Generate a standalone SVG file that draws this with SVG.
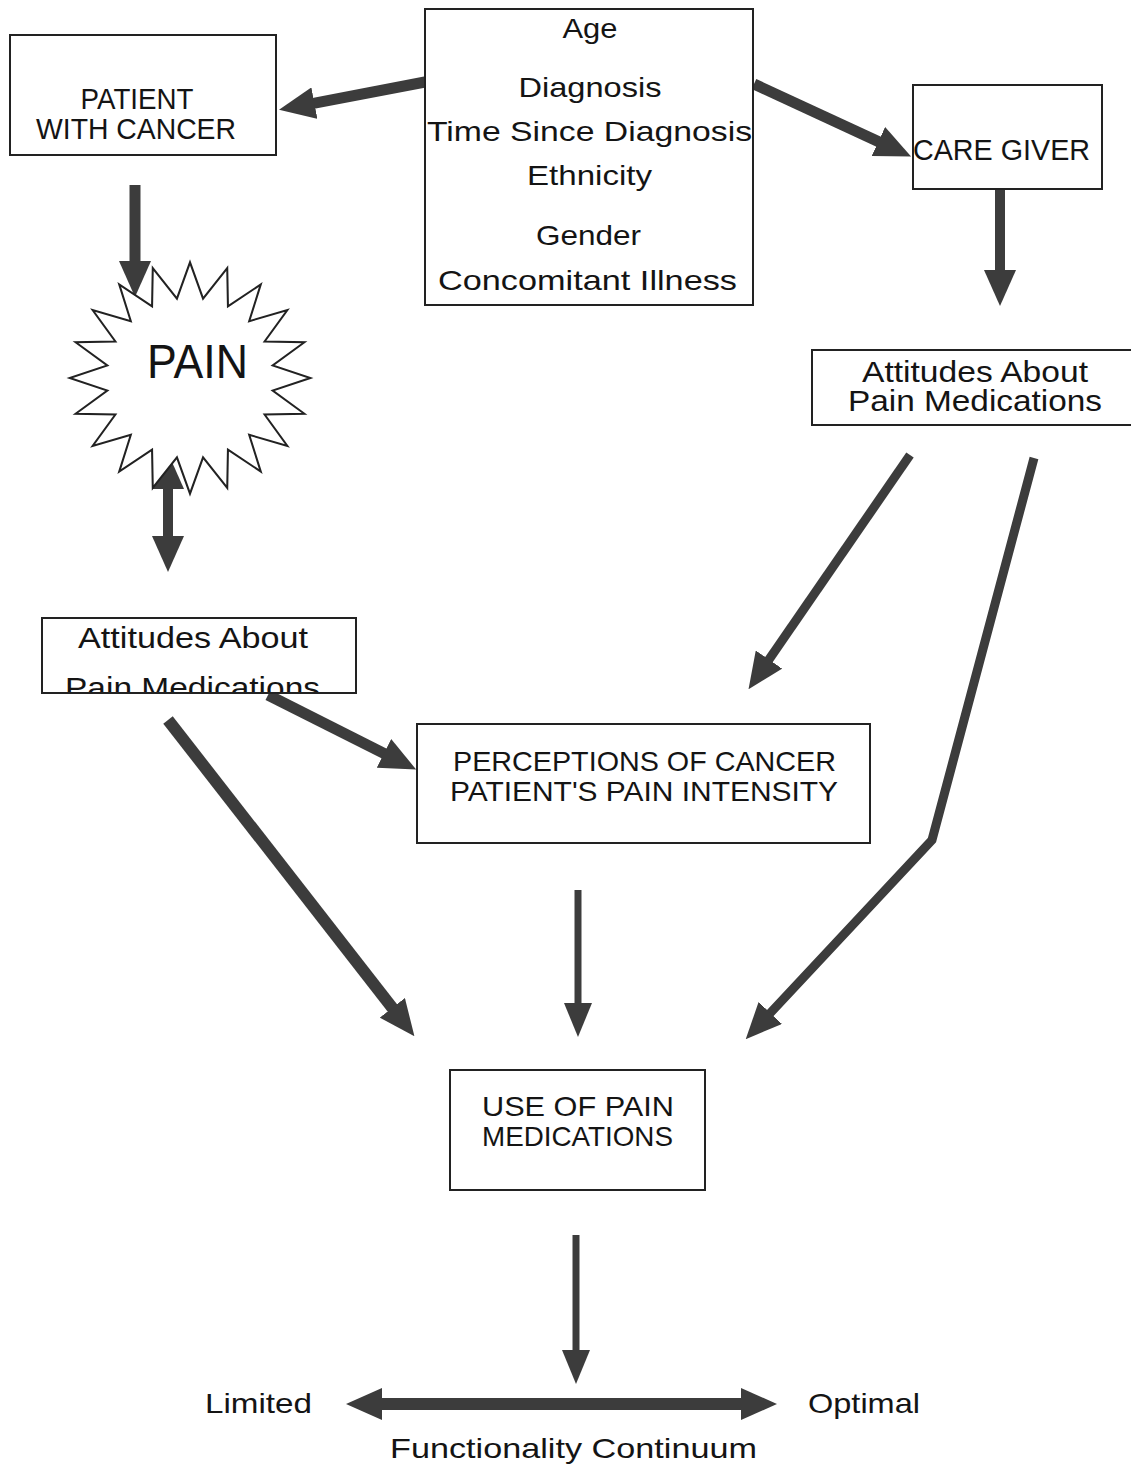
<svg xmlns="http://www.w3.org/2000/svg" width="1131" height="1468" viewBox="0 0 1131 1468">
<style>
.box{fill:#fff;stroke:#222;stroke-width:2}
.t{font-family:"Liberation Sans",Arial,sans-serif;fill:#141414;text-anchor:middle}
.a{stroke:#3c3c3c;fill:none;stroke-linejoin:miter}
</style>
<defs>
<marker id="ah" markerUnits="userSpaceOnUse" markerWidth="36" markerHeight="32" refX="1" refY="16" orient="auto-start-reverse" viewBox="0 0 36 32"><path d="M0,0 L36,16 L0,32 Z" fill="#3c3c3c"/></marker>
<marker id="ahs" markerUnits="userSpaceOnUse" markerWidth="34" markerHeight="28" refX="1" refY="14" orient="auto-start-reverse" viewBox="0 0 34 28"><path d="M0,0 L34,14 L0,28 Z" fill="#3c3c3c"/></marker>
<clipPath id="clipL"><rect x="0" y="600" width="400" height="92"/></clipPath>
</defs>
<rect width="1131" height="1468" fill="#fff"/>

<g id="connectors">
<line class="a" x1="425" y1="82" x2="313.4" y2="103.3" stroke-width="11" marker-end="url(#ah)"/>
<line class="a" x1="754" y1="84" x2="879.3" y2="141.9" stroke-width="11" marker-end="url(#ah)"/>
<line class="a" x1="135" y1="185" x2="135" y2="262" stroke-width="11" marker-end="url(#ah)"/>
<line class="a" x1="1000" y1="188" x2="1000" y2="271" stroke-width="10" marker-end="url(#ah)"/>
<line class="a" x1="168" y1="488" x2="168" y2="537" stroke-width="10" marker-start="url(#ah)" marker-end="url(#ah)"/>
<line class="a" x1="268" y1="695" x2="384.9" y2="753.8" stroke-width="11" marker-end="url(#ah)"/>
<line class="a" x1="168" y1="720" x2="392.9" y2="1008.6" stroke-width="12" marker-end="url(#ah)"/>
<line class="a" x1="910" y1="455" x2="768.4" y2="660.4" stroke-width="9" marker-end="url(#ah)"/>
<polyline class="a" points="1034,458 932,840 769.6,1013.7" stroke-width="9" marker-end="url(#ah)"/>
<line class="a" x1="578" y1="890" x2="578" y2="1004" stroke-width="7" marker-end="url(#ahs)"/>
<line class="a" x1="576" y1="1235" x2="576" y2="1351" stroke-width="7" marker-end="url(#ahs)"/>
<line class="a" x1="381" y1="1404" x2="742" y2="1404" stroke-width="12" marker-start="url(#ah)" marker-end="url(#ah)"/>
</g>

<g id="patient">
<rect class="box" x="10" y="35" width="266" height="120"/>
<text class="t" x="137" y="109" font-size="29" textLength="113" lengthAdjust="spacingAndGlyphs">PATIENT</text>
<text class="t" x="136" y="139" font-size="29" textLength="200" lengthAdjust="spacingAndGlyphs">WITH CANCER</text>
</g>

<g id="factors">
<rect class="box" x="425" y="9" width="328" height="296"/>
<text class="t" x="590" y="38" font-size="28" textLength="55" lengthAdjust="spacingAndGlyphs">Age</text>
<text class="t" x="590" y="97" font-size="28" textLength="143" lengthAdjust="spacingAndGlyphs">Diagnosis</text>
<text class="t" x="589.5" y="141" font-size="28" textLength="325" lengthAdjust="spacingAndGlyphs">Time Since Diagnosis</text>
<text class="t" x="589.5" y="185" font-size="28" textLength="125" lengthAdjust="spacingAndGlyphs">Ethnicity</text>
<text class="t" x="588.5" y="245" font-size="28" textLength="105" lengthAdjust="spacingAndGlyphs">Gender</text>
<text class="t" x="587.5" y="290" font-size="28" textLength="299" lengthAdjust="spacingAndGlyphs">Concomitant Illness</text>
</g>

<g id="caregiver">
<rect class="box" x="913" y="85" width="189" height="104"/>
<text class="t" x="1001.5" y="160" font-size="29" textLength="177" lengthAdjust="spacingAndGlyphs">CARE GIVER</text>
</g>

<g id="pain">
<polygon transform="translate(190,378) scale(1.02,0.98)" fill="#fff" stroke="#222" stroke-width="2" stroke-linejoin="miter" points="118,0 81,12.8 112.2,36.5 73.1,37.2 95.5,69.4 58,58 69.4,95.5 37.2,73.1 36.5,112.2 12.8,81 0,118 -12.8,81 -36.5,112.2 -37.2,73.1 -69.4,95.5 -58,58 -95.5,69.4 -73.1,37.2 -112.2,36.5 -81,12.8 -118,0 -81,-12.8 -112.2,-36.5 -73.1,-37.2 -95.5,-69.4 -58,-58 -69.4,-95.5 -37.2,-73.1 -36.5,-112.2 -12.8,-81 0,-118 12.8,-81 36.5,-112.2 37.2,-73.1 69.4,-95.5 58,-58 95.5,-69.4 73.1,-37.2 112.2,-36.5 81,-12.8"/>
<text class="t" x="197.5" y="378" font-size="48" textLength="101" lengthAdjust="spacingAndGlyphs">PAIN</text>
</g>

<g id="cg-attitudes">
<rect class="box" x="812" y="350" width="325" height="75"/>
<text class="t" x="975" y="382" font-size="29" textLength="226" lengthAdjust="spacingAndGlyphs">Attitudes About</text>
<text class="t" x="975" y="411" font-size="29" textLength="254" lengthAdjust="spacingAndGlyphs">Pain Medications</text>
</g>

<g id="pt-attitudes">
<rect class="box" x="42" y="618" width="314" height="75"/>
<text class="t" x="193" y="648" font-size="29" textLength="230" lengthAdjust="spacingAndGlyphs">Attitudes About</text>
<text class="t" x="192.5" y="698" font-size="29" textLength="255" lengthAdjust="spacingAndGlyphs" clip-path="url(#clipL)">Pain Medications</text>
</g>

<g id="perceptions">
<rect class="box" x="417" y="724" width="453" height="119"/>
<text class="t" x="644.5" y="771" font-size="28" textLength="383" lengthAdjust="spacingAndGlyphs">PERCEPTIONS OF CANCER</text>
<text class="t" x="644" y="801" font-size="28" textLength="388" lengthAdjust="spacingAndGlyphs">PATIENT'S PAIN INTENSITY</text>
</g>

<g id="use">
<rect class="box" x="450" y="1070" width="255" height="120"/>
<text class="t" x="578" y="1116" font-size="28" textLength="192" lengthAdjust="spacingAndGlyphs">USE OF PAIN</text>
<text class="t" x="577.5" y="1146" font-size="28" textLength="191" lengthAdjust="spacingAndGlyphs">MEDICATIONS</text>
</g>

<g id="continuum">
<text class="t" x="258.5" y="1413" font-size="28" textLength="107" lengthAdjust="spacingAndGlyphs">Limited</text>
<text class="t" x="864" y="1413" font-size="28" textLength="112" lengthAdjust="spacingAndGlyphs">Optimal</text>
<text class="t" x="573.5" y="1458" font-size="28" textLength="367" lengthAdjust="spacingAndGlyphs">Functionality Continuum</text>
</g>
</svg>
